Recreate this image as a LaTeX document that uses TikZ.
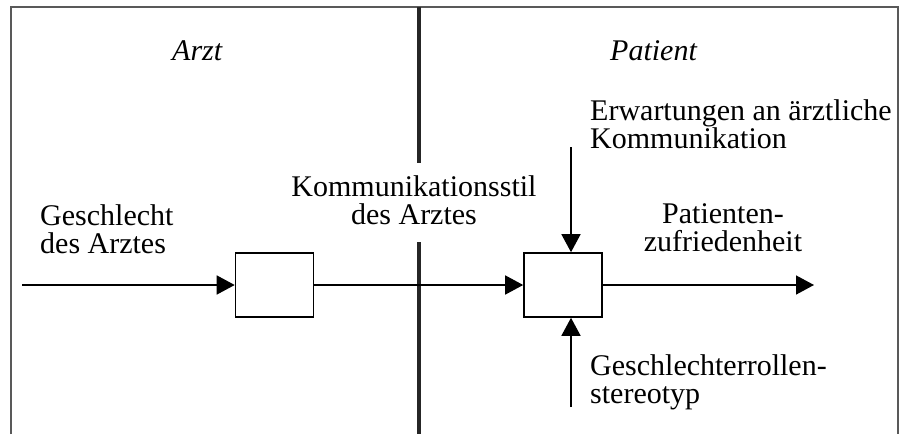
\documentclass[tikz,border=0pt]{standalone}
\usepackage{fontspec}
\setmainfont{Liberation Serif}
\usetikzlibrary{
  arrows.meta,
  positioning,  % Function "of" (e.g. [right=of x])
}
\tikzset{
  font=\fontsize{30}{27.5}\selectfont,
  >={Triangle[length=18pt,width=19pt]},
  frame/.style={
    draw=black!65,
    line width=1.6pt
  },
  divider/.style={
    draw=black!85,
    line width=3.4pt
  },
  my box/.style={
    draw,
    line width=1.6pt,
    minimum width=78pt,
    minimum height=64pt,
    inner sep=0pt,
    rectangle
  },
  my flow/.style={
    ->,
    line width=1.5pt
  },
  my label/.style={
    inner sep=0pt,
    align=left
  },
  my side/.style={
    inner sep=0pt,
    font=\fontsize{30}{27.5}\selectfont\itshape
  }
}
\begin{document}
\begin{tikzpicture}[x=1pt,y=-1pt]
\useasboundingbox (0,0) rectangle (908,434);
% frame and divider
\draw[frame] (11,434) -- (11,7) -- (898,7) -- (898,434);
\coordinate (divtop) at (419,7);
\coordinate (diva)   at (419,163);
\coordinate (divb)   at (419,242);
\coordinate (divbot) at (419,434);
\draw[divider] (divtop) -- (diva) (divb) -- (divbot);
% sides
\node[my side,anchor=base west] (arzt)    at (172,60)  {Arzt};
\node[my side,anchor=base west] (patient) at (610,60)  {Patient};
% boxes
\node[my box] (gen) at (274.5,285) {};
\node[my box] (sat) at (563,285)   {};
% labels (base = last line)
\node[my label,anchor=base west]  (genlbl)   at (40,253)  {Geschlecht\\des Arztes};
\node[my label,anchor=base,align=center] (stillbl) at (414,224) {Kommunikationsstil\\des Arztes};
\node[my label,anchor=base west]  (explbl)   at (590,148) {Erwartungen an ärztliche\\Kommunikation};
\node[my label,anchor=base,align=center] (satlbl)  at (723,251) {Patienten-\\zufriedenheit};
\node[my label,anchor=base west]  (sterlbl)  at (590,403) {Geschlechterrollen-\\stereotyp};
% free ends
\coordinate (in)     at (22,285);
\coordinate (out)    at (814,285);
\coordinate (exp)    at (571,147);
\coordinate (stereo) at (571,407);
\path[my flow] (in)     edge (gen)
               (gen)    edge (sat)
               (sat)    edge (out)
               (exp)    edge (exp |- sat.north)
               (stereo) edge (stereo |- sat.south);
\end{tikzpicture}
\end{document}
